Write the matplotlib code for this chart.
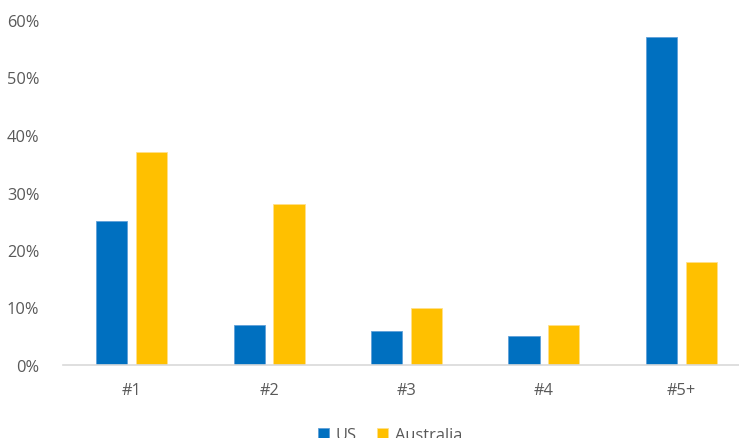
import matplotlib
matplotlib.use("Agg")
import matplotlib.pyplot as plt
import numpy as np
from matplotlib.ticker import PercentFormatter

categories = ["#1", "#2", "#3", "#4", "#5+"]
us = [25, 7, 6, 5, 57]
australia = [37, 28, 10, 7, 18]
yticks = [0, 10, 20, 30, 40, 50, 60]

plt.rcParams['font.family'] = ['Open Sans', 'DejaVu Sans']

W, H = 739, 439
fig = plt.figure(figsize=(W / 100, H / 100), dpi=100)
ax = fig.add_axes([63 / W, (H - 366) / H, (750 - 63) / W, (366 - 21) / H])

x = np.arange(len(categories))
bw = 0.226
off = 0.145
ax.bar(x - off, us, bw, color="#0070C0", edgecolor="#5fa0d8", linewidth=0.6, label="US")
ax.bar(x + off, australia, bw, color="#FFC000", edgecolor="#ffe08a", linewidth=0.6, label="Australia")

ax.set_xlim(-0.5, len(categories) - 0.5)
ax.set_ylim(0, 60)
ax.set_yticks(yticks)
ax.yaxis.set_major_formatter(PercentFormatter(decimals=0))
ax.set_xticks(x)
ax.set_xticklabels(categories)

for s in ["top", "right", "left"]:
    ax.spines[s].set_visible(False)
ax.spines["bottom"].set_color("#D9D9D9")
ax.spines["bottom"].set_linewidth(1.2)
ax.tick_params(axis="both", length=0, labelsize=11.8, colors="#595959")
ax.tick_params(axis="y", pad=17)
ax.tick_params(axis="x", pad=12)

leg = ax.legend(loc="center", bbox_to_anchor=((390 - 63) / (750 - 63), -(436 - 366) / (366 - 21)),
                ncol=2, frameon=False, fontsize=11.8, handlelength=0.7, handleheight=0.7,
                handletextpad=0.4, columnspacing=1.2)
for t in leg.get_texts():
    t.set_color("#595959")

fig.savefig("out.png", dpi=100)
